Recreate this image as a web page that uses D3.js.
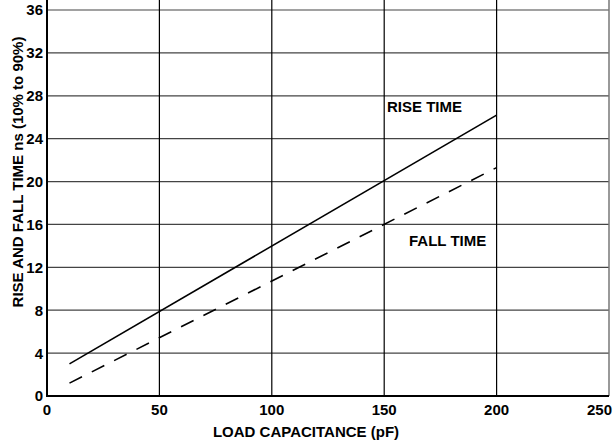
<!DOCTYPE html>
<html>
<head>
<meta charset="utf-8">
<script src="https://cdn.jsdelivr.net/npm/d3@7"></script>
<style>
  body { margin: 0; background: #fff; }
  svg text { font-family: "Liberation Sans", Arial, sans-serif; font-weight: bold; fill: #000; }
</style>
</head>
<body>
<svg id="chart" width="613" height="446"></svg>
<script>
// data
const loadCap = [10, 200];
const riseTime = [3.0, 26.2];
const fallTime = [1.2, 21.3];
const xTicks = [0, 50, 100, 150, 200, 250];
const yTicks = [0, 4, 8, 12, 16, 20, 24, 28, 32, 36];
const labels = [
  { text: "RISE TIME", x: 387, y: 26.5, anchor: "start" },
  { text: "FALL TIME", x: 409, y: 14.0, anchor: "start" },
];

const svg = d3.select("#chart");
const x = d3.scaleLinear().domain([0, 250]).range([47, 609]);
const y = d3.scaleLinear().domain([0, 36]).range([396, 10]);
const yTop = 0;

// horizontal grid
svg.selectAll(".hgrid")
  .data(yTicks.filter(d => d > 0))
  .join("line")
  .attr("x1", x(0)).attr("x2", x(250))
  .attr("y1", d => y(d)).attr("y2", d => y(d))
  .attr("stroke", "#444").attr("stroke-width", 1.2);

// vertical grid
svg.selectAll(".vgrid")
  .data(xTicks.filter(d => d > 0))
  .join("line")
  .attr("x1", d => x(d)).attr("x2", d => x(d))
  .attr("y1", yTop).attr("y2", y(0))
  .attr("stroke", d => d === 250 ? "#777" : "#000")
  .attr("stroke-width", d => d === 250 ? 1.5 : 1.2);

// axes lines
svg.append("line")
  .attr("x1", x(0)).attr("x2", x(0)).attr("y1", yTop).attr("y2", y(0) + 1)
  .attr("stroke", "#000").attr("stroke-width", 2);
svg.append("line")
  .attr("x1", x(0) - 1).attr("x2", x(250)).attr("y1", y(0)).attr("y2", y(0))
  .attr("stroke", "#000").attr("stroke-width", 2);

// tick labels
svg.selectAll(".ylab")
  .data(yTicks)
  .join("text")
  .attr("x", 43).attr("y", d => y(d))
  .attr("dy", "0.36em")
  .attr("text-anchor", "end")
  .attr("font-size", 15)
  .text(d => d);

// last label pulled in so it stays on the page
svg.selectAll(".xlab")
  .data(xTicks)
  .join("text")
  .attr("x", d => d === 250 ? 612 : x(d)).attr("y", 415)
  .attr("text-anchor", d => d === 250 ? "end" : "middle")
  .attr("font-size", 15)
  .text(d => d);

// axis titles
svg.append("text")
  .attr("x", 306).attr("y", 437)
  .attr("text-anchor", "middle")
  .attr("font-size", 15)
  .text("LOAD CAPACITANCE (pF)");

svg.append("text")
  .attr("transform", "translate(23,172) rotate(-90)")
  .attr("text-anchor", "middle")
  .attr("font-size", 15)
  .text("RISE AND FALL TIME ns (10% to 90%)");

// lines
const line = d3.line().x(d => x(d[0])).y(d => y(d[1]));
svg.append("path")
  .attr("d", line(loadCap.map((c, i) => [c, riseTime[i]])))
  .attr("fill", "none").attr("stroke", "#000").attr("stroke-width", 1.6);
svg.append("path")
  .attr("d", line(loadCap.map((c, i) => [c, fallTime[i]])))
  .attr("fill", "none").attr("stroke", "#000").attr("stroke-width", 1.6)
  .attr("stroke-dasharray", "14,11");

svg.selectAll(".lbl")
  .data(labels)
  .join("text")
  .attr("x", d => d.x).attr("y", d => y(d.y))
  .attr("text-anchor", d => d.anchor)
  .attr("font-size", 15)
  .text(d => d.text);
</script>
</body>
</html>
